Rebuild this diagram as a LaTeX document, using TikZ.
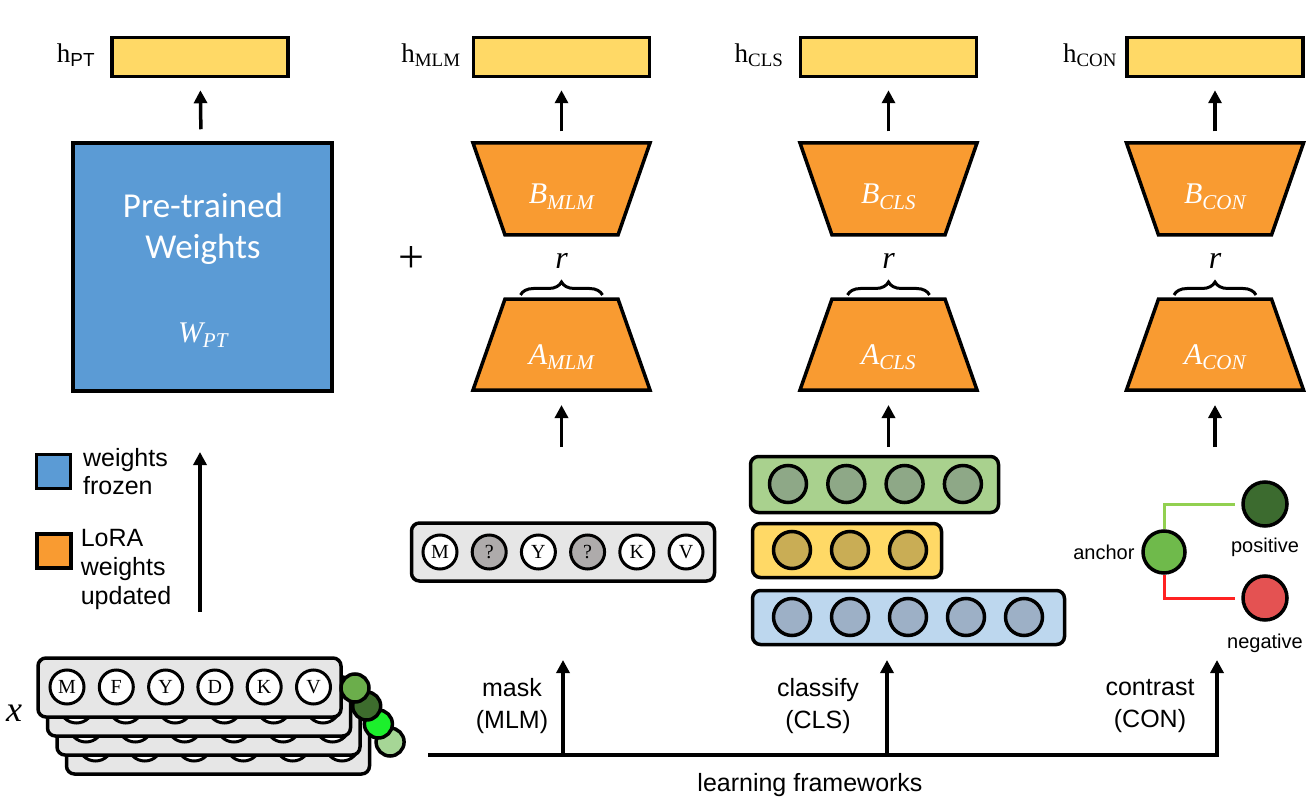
\documentclass[tikz,border=0pt]{standalone}
\usepackage{fontspec}
\setmainfont{Liberation Sans}
\newfontfamily\calib{Carlito}
\newfontfamily\lsr{Liberation Serif}
\usetikzlibrary{arrows.meta, decorations.pathreplacing, calc, positioning}

\definecolor{frozenblue}{HTML}{5B9BD5}
\definecolor{loraorange}{HTML}{F99B31}
\definecolor{hyellow}{HTML}{FFD966}
\definecolor{rowgray}{HTML}{E6E6E6}
\definecolor{qgray}{HTML}{AEABAB}
\definecolor{clsgreen}{HTML}{A9D18E}
\definecolor{clsgreenc}{HTML}{8EA887}
\definecolor{clsyellowc}{HTML}{C9AD55}
\definecolor{clsblue}{HTML}{BDD7EE}
\definecolor{clsbluec}{HTML}{9DB0C6}
\definecolor{anchorgreen}{HTML}{6FBA4B}
\definecolor{posgreen}{HTML}{3C6B2F}
\definecolor{negred}{HTML}{E45252}
\definecolor{posline}{HTML}{92D050}
\definecolor{negline}{HTML}{FF2222}
\definecolor{ballA}{HTML}{6BAE4B}
\definecolor{ballB}{HTML}{3D6C2D}
\definecolor{ballC}{HTML}{1CEF2C}
\definecolor{ballD}{HTML}{A6D696}

\newcommand{\sz}[2]{\fontsize{#1}{#2}\selectfont}
\newcommand{\hvec}[1]{{\lsr h\textsubscript{#1}}}
\newcommand{\itvar}[2]{{\lsr\itshape #1\textsubscript{#2}}}

\begin{document}
\begin{tikzpicture}[x=1pt, y=-1pt, line width=3pt,
  hbar/.style={draw, fill=hyellow, line width=3.5pt, minimum width=176pt, minimum height=39pt},
  hlab/.style={font=\sz{27}{30}},
  lorashape/.style={draw, fill=loraorange, line width=3.5pt, line join=miter},
  trapbox/.style={minimum width=177pt, minimum height=91pt, inner sep=0pt, outer sep=0pt},
  traplab/.style={anchor=base, text=white, font=\sz{30}{32}},
  arr/.style={line width=3.5pt, -{Triangle[length=13pt,width=13pt]}, shorten <=12pt, shorten >=12pt},
  arr0/.style={line width=3.5pt, -{Triangle[length=13pt,width=13pt]}},
  rbrace/.style={decorate, decoration={brace, amplitude=13pt}, line width=3pt},
  row/.style={draw, rounded corners=8pt, line width=3.5pt},
  tok/.style={circle, draw, fill=white, line width=3pt, minimum size=34pt, inner sep=0pt, font=\lsr\sz{20}{20}},
  dot/.style={circle, draw, line width=3.5pt, minimum size=37pt, inner sep=0pt},
  lbl/.style={font=\sz{25}{32}, align=center},
  small/.style={font=\sz{20}{24}}]
\useasboundingbox (0,0) rectangle (1314,802);

% output vectors
\node[hbar] (hpt)  at (200,57) {};
\node[hbar] (hmlm) at (561.5,57) {};
\node[hbar] (hcls) at (888.5,57) {};
\node[hbar] (hcon) at (1215,57) {};
\node[hlab] (hptlab)  at (76,55)  {{\lsr h}\textsubscript{PT}};
\node[hlab] (hmlmlab) at (431,55) {\hvec{MLM}};
\node[hlab] (hclslab) at (759,55) {\hvec{CLS}};
\node[hlab] (hconlab) at (1090,55) {\hvec{CON}};

% frozen weights
\node[draw, fill=frozenblue, line width=3.5pt, minimum width=259pt, minimum height=248pt] (wpt) at (202.5,267) {};
\node[text=white, font=\calib\sz{35}{41}, align=center] (wpttxt) at (203,229) {Pre-trained\\Weights};
\node[traplab] (wptsym) at (203,342) {\itvar{W}{PT}};
\draw[arr] (wpt) -- (hpt);
\node[font=\lsr\sz{46}{46}] (plus) at (411,260) {+};

% LoRA branches
\foreach \nm/\lab/\cx in {mlm/MLM/561.5, cls/CLS/888.5, con/CON/1215} {
  \draw[lorashape] (\cx-88.5,143) -- ++(177,0) -- ++(-32,92) -- ++(-113,0) -- cycle;
  \node[trapbox] (B\nm) at (\cx,189) {};
  \node[traplab] (B\nm lab) at (\cx,204) {\itvar{B}{\lab}};
  \draw[lorashape] (\cx-56.5,299) -- ++(113,0) -- ++(32,91) -- ++(-177,0) -- cycle;
  \node[trapbox] (A\nm) at (\cx,344.5) {};
  \node[traplab] (A\nm lab) at (\cx,364) {\itvar{A}{\lab}};
  \draw[rbrace] ($(A\nm.north)+(-41,-4)$) -- ($(A\nm.north)+(41,-4)$)
    node[midway, above=22pt, font=\lsr\itshape\sz{32}{32}] {r};
  \coordinate (in\nm) at (\cx,447);
  \draw[arr] (B\nm) -- (h\nm);
  \draw[arr, shorten <=0pt, shorten >=15pt] (in\nm) -- (A\nm);
}

% masked sequence
\node[row, fill=rowgray, minimum width=303pt, minimum height=58pt] (maskrow) at (563,552) {};
\foreach \t/\f [count=\i] in {M/white, ?/qgray, Y/white, ?/qgray, K/white, V/white}
  \node[tok, fill=\f] (mask\i) at ({440+49.2*(\i-1)},552) {\t};

% classification heads
\node[row, fill=clsgreen, minimum width=248pt, minimum height=56pt] (clsrowa) at (874.5,484.5) {};
\node[row, fill=hyellow, minimum width=189pt, minimum height=54pt] (clsrowb) at (847,550.5) {};
\node[row, fill=clsblue, minimum width=312pt, minimum height=54pt] (clsrowc) at (908.5,617.5) {};
\foreach \i in {0,...,3}
  \node[dot, fill=clsgreenc] (clsa\i) at ({788+58.3*\i},484) {};
\foreach \i in {0,...,2}
  \node[dot, fill=clsyellowc] (clsb\i) at ({792+58*\i},550) {};
\foreach \i in {0,...,4}
  \node[dot, fill=clsbluec] (clsc\i) at ({792+58*\i},617) {};

% contrastive triplet
\node[dot, fill=anchorgreen, minimum size=42pt] (anc) at (1164,552) {};
\node[dot, fill=posgreen, minimum size=44pt] (pos) at (1265,504) {};
\node[dot, fill=negred, minimum size=44pt] (neg) at (1265,598) {};
\draw[posline, line width=3pt] (anc.north) |- ([xshift=-6pt]pos.west);
\draw[negline, line width=3pt] (anc.south) |- ([xshift=-6pt]neg.west);
\node[small, left=2pt of anc] (anclab) {anchor};
\node[small, below=5pt of pos] (poslab) {positive};
\node[small, below=7pt of neg] (neglab) {negative};

% legend
\node[draw, fill=frozenblue, line width=3.5pt, minimum size=34pt] (legfrozen) at (53.5,471.5) {};
\node[draw, fill=loraorange, line width=3.5pt, minimum size=34pt] (leglora) at (54,551) {};
\node[font=\sz{25}{28}, align=left, right=6pt of legfrozen] (legfrozentxt) {weights\\frozen};
\node[font=\sz{25}{29}, align=left, anchor=north west] (legloratxt) at (76,524) {LoRA\\weights\\updated};
\coordinate (legbot) at (200,612);
\coordinate (legtop) at (200,452);
\draw[arr0] (legbot) -- (legtop);

% input sequences
\foreach \k/\gc in {3/ballD, 2/ballC, 1/ballB, 0/ballA} {
  \node[row, fill=rowgray, minimum width=303pt, minimum height=59pt] (layer\k) at ({189.5+9.5*\k},{687.5+19*\k}) {};
  \foreach \t [count=\i] in {M,F,Y,D,K,V}
    \node[tok] (tok\k-\i) at ({67+49.3*(\i-1)+9.5*\k},{687+19*\k}) {\t};
  \node[dot, fill=\gc, minimum size=28pt] (ball\k) at ({355+11.7*\k},{688+18*\k}) {};
}
\node[font=\lsr\itshape\sz{36}{36}] (xlab) at (14,713) {x};

% learning frameworks
\coordinate (lfstart) at (428,755);
\coordinate (mlmbase) at (563,755);
\coordinate (clsbase) at (887,755);
\coordinate (mlmtop) at (563,660);
\coordinate (clstop) at (887,660);
\coordinate (contop) at (1217,660);
\draw[arr0] (lfstart) -| (contop);
\draw[arr0] (mlmbase) -- (mlmtop);
\draw[arr0] (clsbase) -- (clstop);
\node[lbl] (masklab) at (512,706) {mask\\(MLM)};
\node[lbl] (clslab) at (818,706) {classify\\(CLS)};
\node[lbl] (conlab) at (1150,706) {contrast\\(CON)};
\node[lbl] (lflab) at (810,785) {learning frameworks};
\end{tikzpicture}
\end{document}
